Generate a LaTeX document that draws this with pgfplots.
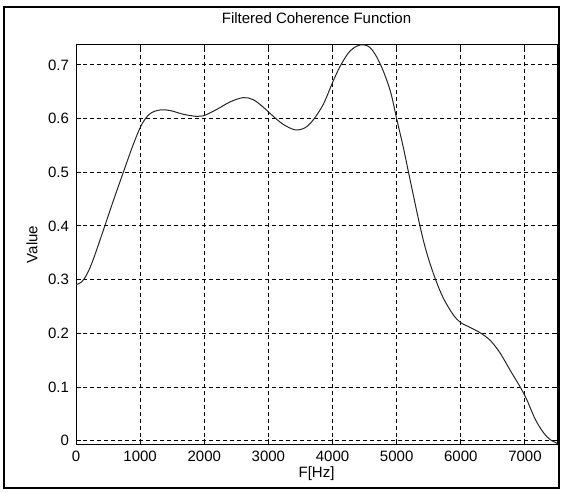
\documentclass[border=0pt]{standalone}
\usepackage{fontspec}
\setmainfont{Liberation Sans}
\usepackage{pgfplots}
\usepackage{pgfplotstable}
\pgfplotsset{compat=1.18}
\pgfplotstableread{
x y
0 0.291
80 0.295
170 0.310
270 0.338
426 0.392
582 0.447
738 0.500
894 0.552
1025 0.589
1154 0.609
1310 0.616
1466 0.615
1674 0.608
1882 0.604
1986 0.605
2194 0.617
2402 0.631
2610 0.639
2766 0.635
2922 0.621
3078 0.604
3234 0.589
3417 0.579
3573 0.583
3702 0.598
3858 0.627
4014 0.671
4140 0.702
4275 0.726
4431 0.737
4587 0.732
4743 0.702
4899 0.652
5003 0.598
5106 0.545
5211 0.485
5367 0.398
5471 0.349
5601 0.302
5730 0.265
5886 0.234
6001 0.220
6147 0.211
6303 0.201
6459 0.187
6615 0.163
6771 0.131
6927 0.100
7031 0.076
7161 0.040
7290 0.015
7395 0.002
7473 -0.003
7500 -0.005
}\coh
\begin{document}
\begin{tikzpicture}
\begin{axis}[
  name=ax,
  at={(0,0)}, anchor=south west,
  scale only axis,
  width=240.5pt, height=199.5pt,
  xmin=0, xmax=7500, ymin=-0.006, ymax=0.737,
  xtick={0,1000,2000,3000,4000,5000,6000,7000},
  ytick={0,0.1,0.2,0.3,0.4,0.5,0.6,0.7},
  scaled x ticks=false,
  xticklabel style={/pgf/number format/.cd, fixed, 1000 sep={}, assume math mode=true},
  yticklabel style={/pgf/number format/.cd, fixed, precision=1, assume math mode=true},
  grid=major,
  major grid style={black, line width=0.5pt, dash pattern=on 2pt off 1.5pt},
  axis line style={black, line width=0.5pt},
  tick align=inside, major tick length=2.5pt,
  tick style={black, line width=0.5pt},
  ticklabel style={font=\fontsize{7.5}{9}\selectfont},
  title={Filtered Coherence Function},
  title style={font=\fontsize{7.5}{9}\selectfont, at={(axis description cs:0.5,1.0226)}, anchor=base},
  xlabel={F[Hz]},
  xlabel style={font=\fontsize{7.5}{9}\selectfont, at={(axis description cs:0.5,-0.0852)}, anchor=base},
  ylabel={Value},
  ylabel style={font=\fontsize{7.5}{9}\selectfont, at={(axis description cs:-0.0915,0.5)}, anchor=center},
]
\addplot[black!85, line width=0.5pt, smooth, tension=0.55, no markers] table[x=x, y=y] {\coh};
\end{axis}
\draw[line width=1.25pt] ([xshift=-36pt,yshift=-22pt]ax.south west) rectangle ([xshift=1pt,yshift=19pt]ax.north east);
\useasboundingbox ([xshift=-38pt,yshift=-24pt]ax.south west) rectangle ([xshift=2pt,yshift=22.5pt]ax.north east);
\end{tikzpicture}
\end{document}
